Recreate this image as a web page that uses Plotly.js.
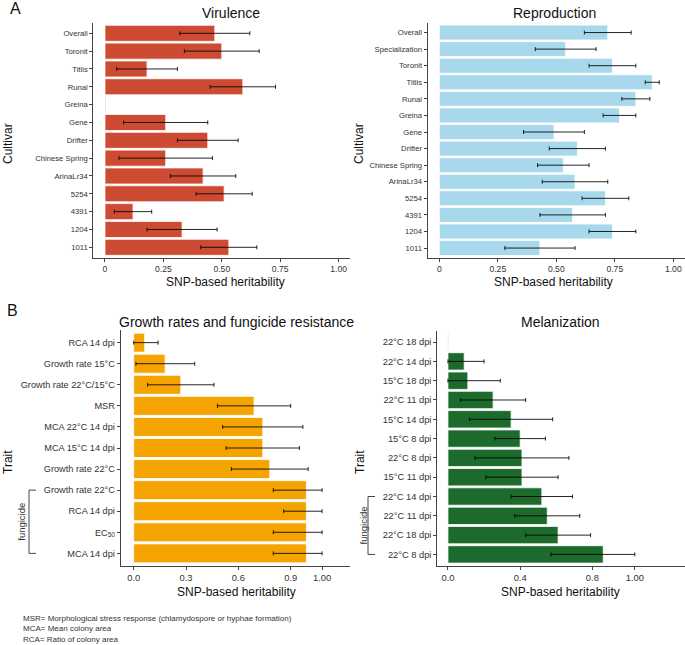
<!DOCTYPE html>
<html>
<head>
<meta charset="utf-8">
<script src="https://cdn.plot.ly/plotly-3.0.1.min.js"></script>
<style>html,body{margin:0;padding:0;background:#fff;}#chart{width:685px;height:645px;}</style>
</head>
<body>
<div id="chart"></div>
<script>
// ---- Data ----
const virCultivars = ['Overall','Toronit','Titlis','Runal','Greina','Gene','Drifter','Chinese Spring','ArinaLr34','5254','4391','1204','1011'];
const virH  = [0.47,0.50,0.18,0.59,0.003,0.26,0.44,0.26,0.42,0.51,0.12,0.33,0.53];
const virLo = [0.32,0.34,0.05,0.45,null,0.08,0.31,0.06,0.28,0.39,0.04,0.18,0.41];
const virHi = [0.62,0.66,0.31,0.73,null,0.44,0.57,0.46,0.56,0.63,0.20,0.48,0.65];

const repCultivars = ['Overall','Specialization','Toronit','Titlis','Runal','Greina','Gene','Drifter','Chinese Spring','ArinaLr34','5254','4391','1204','1011'];
const repH  = [0.72,0.54,0.74,0.91,0.84,0.77,0.49,0.59,0.53,0.58,0.71,0.57,0.74,0.43];
const repLo = [0.62,0.41,0.64,0.88,0.78,0.70,0.36,0.47,0.42,0.44,0.61,0.43,0.64,0.28];
const repHi = [0.82,0.67,0.84,0.94,0.90,0.84,0.62,0.71,0.64,0.72,0.81,0.71,0.84,0.58];

const growthTraits = ['RCA 14 dpi','Growth rate 15°C','Growth rate 22°C/15°C','MSR','MCA 22°C 14 dpi','MCA 15°C 14 dpi','Growth rate 22°C','Growth rate 22°C','RCA 14 dpi','EC<sub>50</sub>','MCA 14 dpi'];
const growthH  = [0.063,0.18,0.27,0.69,0.74,0.74,0.78,0.99,0.99,0.99,0.99];
const growthLo = [0.0,0.013,0.08,0.48,0.51,0.53,0.56,0.80,0.86,0.80,0.80];
const growthHi = [0.14,0.35,0.46,0.90,0.97,0.95,1.00,1.08,1.08,1.08,1.08];

const melTraits = ['22°C 18 dpi','22°C 14 dpi','15°C 18 dpi','22°C 11 dpi','15°C 14 dpi','15°C 8 dpi','22°C 8 dpi','15°C 11 dpi','22°C 14 dpi','22°C 11 dpi','22°C 18 dpi','22°C 8 dpi'];
const melH  = [0.002,0.09,0.11,0.25,0.35,0.40,0.41,0.41,0.52,0.55,0.61,0.86];
const melLo = [null,0.0,0.0,0.07,0.12,0.26,0.15,0.21,0.35,0.37,0.43,0.57];
const melHi = [null,0.20,0.29,0.43,0.58,0.54,0.67,0.61,0.69,0.73,0.79,1.035];

const growthTickVals = [0,0.3,0.6,0.9,1.08];
const growthTickText = ['0.0','0.3','0.6','0.9','1.00'];
const melTickVals = [0,0.4,0.8,1.035];
const melTickText = ['0.0','0.4','0.8','1.00'];
const topTickVals = [0,0.25,0.5,0.75,1.0];
const topTickText = ['0','0.25','0.50','0.75','1.00'];

const footnotes = ['MSR= Morphological stress response (chlamydospore or hyphae formation)','MCA= Mean colony area','RCA= Ratio of colony area'];

// ---- Build ----
const W = 685, H = 645;
const FONT = 'Liberation Sans, Arial, sans-serif';
function idx(a){ return a.map((_, i) => i); }
function bar(h, lo, hi, color, xa, ya){
  return {
    type:'bar', orientation:'h', x:h, y:idx(h), xaxis:xa, yaxis:ya,
    width:0.9, marker:{color:color, line:{color:'#ffffff', width:0.8}},
    error_x:{type:'data', symmetric:false,
      array: hi.map((v,i)=> v==null?NaN: v-h[i]),
      arrayminus: lo.map((v,i)=> v==null?NaN: h[i]-v),
      color:'rgba(0,0,0,0.85)', thickness:1, width:2},
    hoverinfo:'skip', showlegend:false
  };
}
const data = [
  bar(virH, virLo, virHi, '#CC4B32', 'x', 'y'),
  bar(repH, repLo, repHi, '#A7D8EC', 'x2', 'y2'),
  bar(growthH, growthLo, growthHi, '#F5A300', 'x3', 'y3'),
  bar(melH, melLo, melHi, '#1C6A2C', 'x4', 'y4')
];

function xax(domain, range, tv, tt, anchor, fs){
  return {domain:domain.map(v=>v/W), range:range, anchor:anchor, tickmode:'array', tickvals:tv, ticktext:tt,
    showline:true, linecolor:'#444', linewidth:1, ticks:'outside', ticklen:3, tickcolor:'#444',
    showgrid:false, zeroline:false, tickfont:{family:FONT, size:fs, color:'#333'}, fixedrange:true};
}
function yax(domainPx, labels, anchor, fs){
  return {domain:[1-domainPx[1]/H, 1-domainPx[0]/H], range:[labels.length-1+0.6, -0.6], anchor:anchor,
    tickmode:'array', tickvals:idx(labels), ticktext:labels,
    showline:true, linecolor:'#444', linewidth:1, ticks:'outside', ticklen:3, tickcolor:'#444',
    showgrid:false, zeroline:false, tickfont:{family:FONT, size:fs, color:'#333'}, fixedrange:true};
}

function txt(x, y, text, size, opts){
  return Object.assign({xref:'paper', yref:'paper', x:x/W, y:1-y/H, text:text, showarrow:false,
    font:{family:FONT, size:size, color:'#111'}, xanchor:'center', yanchor:'middle'}, opts||{});
}

const annotations = [
  txt(15, 8, 'A', 16),
  txt(12, 311, 'B', 16),
  txt(231, 13, 'Virulence', 14),
  txt(554, 13, 'Reproduction', 14),
  txt(236, 322, 'Growth rates and fungicide resistance', 14),
  txt(560, 322, 'Melanization', 14),
  txt(226, 282, 'SNP-based heritability', 12),
  txt(553, 282, 'SNP-based heritability', 12),
  txt(236, 592, 'SNP-based heritability', 12),
  txt(560, 592, 'SNP-based heritability', 12),
  txt(8, 144, 'Cultivar', 12, {textangle:-90}),
  txt(359, 144, 'Cultivar', 12, {textangle:-90}),
  txt(8, 462, 'Trait', 12, {textangle:-90}),
  txt(360, 462, 'Trait', 12, {textangle:-90}),
  {xref:'paper', yref:'y3', x:22/W, y:8.5, text:'fungicide', textangle:-90, showarrow:false,
    font:{family:FONT, size:9.5, color:'#333'}, xanchor:'center', yanchor:'middle'},
  {xref:'paper', yref:'y4', x:363/W, y:9.5, text:'fungicide', textangle:-90, showarrow:false,
    font:{family:FONT, size:9.5, color:'#333'}, xanchor:'center', yanchor:'middle'}
];
footnotes.forEach((t,i)=>{
  annotations.push(txt(21, 618 + i*10.5, t, 8, {xanchor:'left', font:{family:FONT, size:8, color:'#333'}}));
});

const bracket = (xv, xh, yref, y0, y1) => ([
  {type:'line', xref:'paper', yref:yref, x0:xv/W, x1:xv/W, y0:y0, y1:y1, line:{color:'#444', width:1}},
  {type:'line', xref:'paper', yref:yref, x0:xv/W, x1:xh/W, y0:y0, y1:y0, line:{color:'#444', width:1}},
  {type:'line', xref:'paper', yref:yref, x0:xv/W, x1:xh/W, y0:y1, y1:y1, line:{color:'#444', width:1}}
]);
const shapes = [].concat(bracket(29, 36, 'y3', 7, 10), bracket(368, 375, 'y4', 8, 11));

const layout = {
  width:W, height:H, margin:{l:0,r:0,t:0,b:0}, paper_bgcolor:'#fff', plot_bgcolor:'rgba(0,0,0,0)',
  showlegend:false, barmode:'overlay',
  xaxis:  xax([93.3,350.3], [-0.05,1.05], topTickVals, topTickText, 'y', 8.6),
  yaxis:  yax([22.6,258], virCultivars, 'x', 7.7),
  xaxis2: xax([427.6,685], [-0.05,1.05], topTickVals, topTickText, 'y2', 8.6),
  yaxis2: yax([22.6,258], repCultivars, 'x2', 7.7),
  xaxis3: xax([120.7,350], [-0.0745,1.24], growthTickVals, growthTickText, 'y3', 9.4),
  yaxis3: yax([330,566], growthTraits, 'x3', 9.2),
  xaxis4: xax([437.3,685], [-0.059,1.313], melTickVals, melTickText, 'y4', 9.4),
  yaxis4: yax([330.5,566], melTraits, 'x4', 9.3),
  annotations:annotations, shapes:shapes,
  font:{family:FONT}
};
Plotly.newPlot('chart', data, layout, {displayModeBar:false, staticPlot:true});
</script>
</body>
</html>
